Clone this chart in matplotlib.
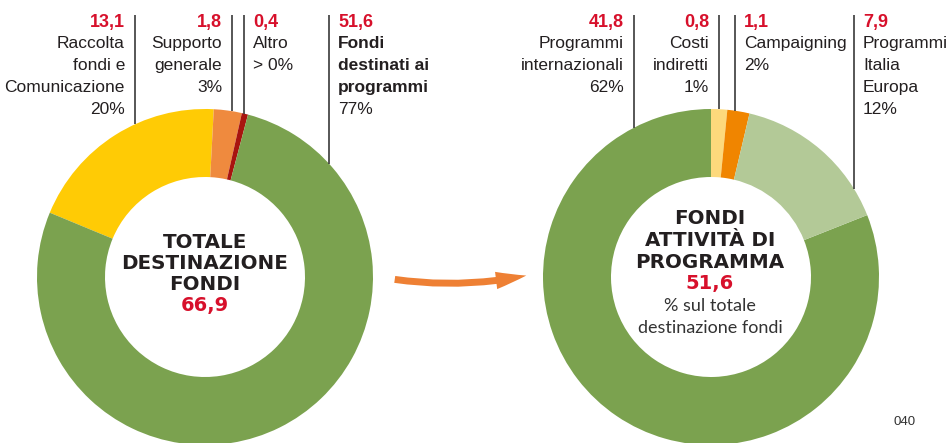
"""Two donut charts: total destination of funds and programme activity funds."""

import matplotlib.pyplot as plt
import numpy as np
from matplotlib.patches import FancyArrowPatch

# Left donut: totale destinazione fondi (milioni)
left_values = [13.1, 1.8, 0.4, 51.6]
left_numbers = ["13,1", "1,8", "0,4", "51,6"]
left_names = [
    ["Raccolta", "fondi e", "Comunicazione"],
    ["Supporto", "generale"],
    ["Altro"],
    ["Fondi", "destinati ai", "programmi"],
]
left_pcts = ["20%", "3%", "> 0%", "77%"]
left_total = "66,9"

# Right donut: fondi attivita di programma
right_values = [41.8, 0.8, 1.1, 7.9]
right_numbers = ["41,8", "0,8", "1,1", "7,9"]
right_names = [
    ["Programmi", "internazionali"],
    ["Costi", "indiretti"],
    ["Campaigning"],
    ["Programmi", "Italia", "Europa"],
]
right_pcts = ["62%", "1%", "2%", "12%"]
right_total = "51,6"

LEFT_COLORS = ["#FFCB05", "#EF8A3E", "#A8140F", "#7BA24F"]
RIGHT_COLORS = ["#7BA24F", "#FDD97C", "#F08500", "#B3C997"]
RED = "#D7102B"
INK = "#231F20"
W, H = 953, 443
R_OUT, R_IN = 168, 100

NARROW = ["Liberation Sans Narrow", "Liberation Sans", "DejaVu Sans"]
TITLE = ["DejaVu Sans"]
SUB = ["Lato", "DejaVu Sans"]
LABEL_SIZE = 12.5


def py(y):
    """Pixel row (top-down) to data y (bottom-up)."""
    return H - y


fig = plt.figure(figsize=(W / 100, H / 100), dpi=100)
ax = fig.add_axes([0, 0, 1, 1])

left_c = (205, py(277))
right_c = (711, py(277))

ax.pie(
    left_values,
    colors=LEFT_COLORS,
    center=left_c,
    radius=R_OUT,
    startangle=157.5,
    counterclock=False,
    wedgeprops=dict(width=R_OUT - R_IN, edgecolor="none"),
)
ax.pie(
    right_values,
    colors=RIGHT_COLORS,
    center=right_c,
    radius=R_OUT,
    startangle=90 + 360 * right_values[0] / sum(right_values),
    counterclock=False,
    wedgeprops=dict(width=R_OUT - R_IN, edgecolor="none"),
)

ax.set_xlim(0, W)
ax.set_ylim(0, H)
ax.set_aspect("equal")
ax.axis("off")


def callouts(center, line_xs, sides, numbers, names, pcts, bold_idx=None):
    row0, step = 22, 21.8
    for i, (lx, side) in enumerate(zip(line_xs, sides)):
        y_end = center[1] + np.sqrt(R_OUT**2 - (lx - center[0]) ** 2)
        ax.plot([lx, lx], [py(15), y_end], color="#3a3a3a", lw=1.2,
                solid_capstyle="butt")
        tx = lx - 10 if side == "r" else lx + 9
        ha = "right" if side == "r" else "left"
        ax.text(tx, py(row0), numbers[i], color=RED, fontsize=13,
                fontweight="bold", ha=ha, va="center", family=NARROW)
        weight = "bold" if i == bold_idx else "normal"
        for j, name in enumerate(names[i]):
            ax.text(tx, py(row0 + step * (j + 1)), name, color=INK,
                    fontsize=LABEL_SIZE, fontweight=weight, ha=ha,
                    va="center", family=NARROW)
        ax.text(tx, py(row0 + step * (len(names[i]) + 1)), pcts[i],
                color=INK, fontsize=LABEL_SIZE, ha=ha, va="center",
                family=NARROW)


callouts(left_c, [135, 232, 244, 329], ["r", "r", "l", "l"],
         left_numbers, left_names, left_pcts, bold_idx=3)
callouts(right_c, [634, 719, 735, 854], ["r", "r", "l", "l"],
         right_numbers, right_names, right_pcts)

# centre titles
for k, line in enumerate(["TOTALE", "DESTINAZIONE", "FONDI"]):
    ax.text(205, py(242 + 21.5 * k), line, ha="center", va="center",
            fontsize=14.3, fontweight="bold", color=INK, family=TITLE)
ax.text(205, py(306), left_total, ha="center", va="center", fontsize=14,
        fontweight="bold", color=RED, family=TITLE)

for k, line in enumerate(["FONDI", "ATTIVITÀ DI", "PROGRAMMA"]):
    ax.text(710, py(219 + 22 * k), line, ha="center", va="center",
            fontsize=14.3, fontweight="bold", color=INK, family=TITLE)
ax.text(710, py(284), right_total, ha="center", va="center", fontsize=14,
        fontweight="bold", color=RED, family=TITLE)
for k, line in enumerate(["% sul totale", "destinazione fondi"]):
    ax.text(710, py(306 + 22 * k), line, ha="center", va="center",
            fontsize=13, color="#333333", family=SUB)

arrow = FancyArrowPatch(
    posA=(392, py(279)),
    posB=(529, py(275)),
    connectionstyle="arc3,rad=0.09",
    arrowstyle="simple,head_width=1.25,head_length=2.2,tail_width=0.5",
    mutation_scale=10,
    color="#EE8034",
    lw=0,
)
ax.add_patch(arrow)

ax.text(905, py(422), "040", ha="center", va="center", fontsize=9.5,
        color="#333333", family=["Liberation Sans", "DejaVu Sans"])

fig.savefig("out.png", dpi=100)
